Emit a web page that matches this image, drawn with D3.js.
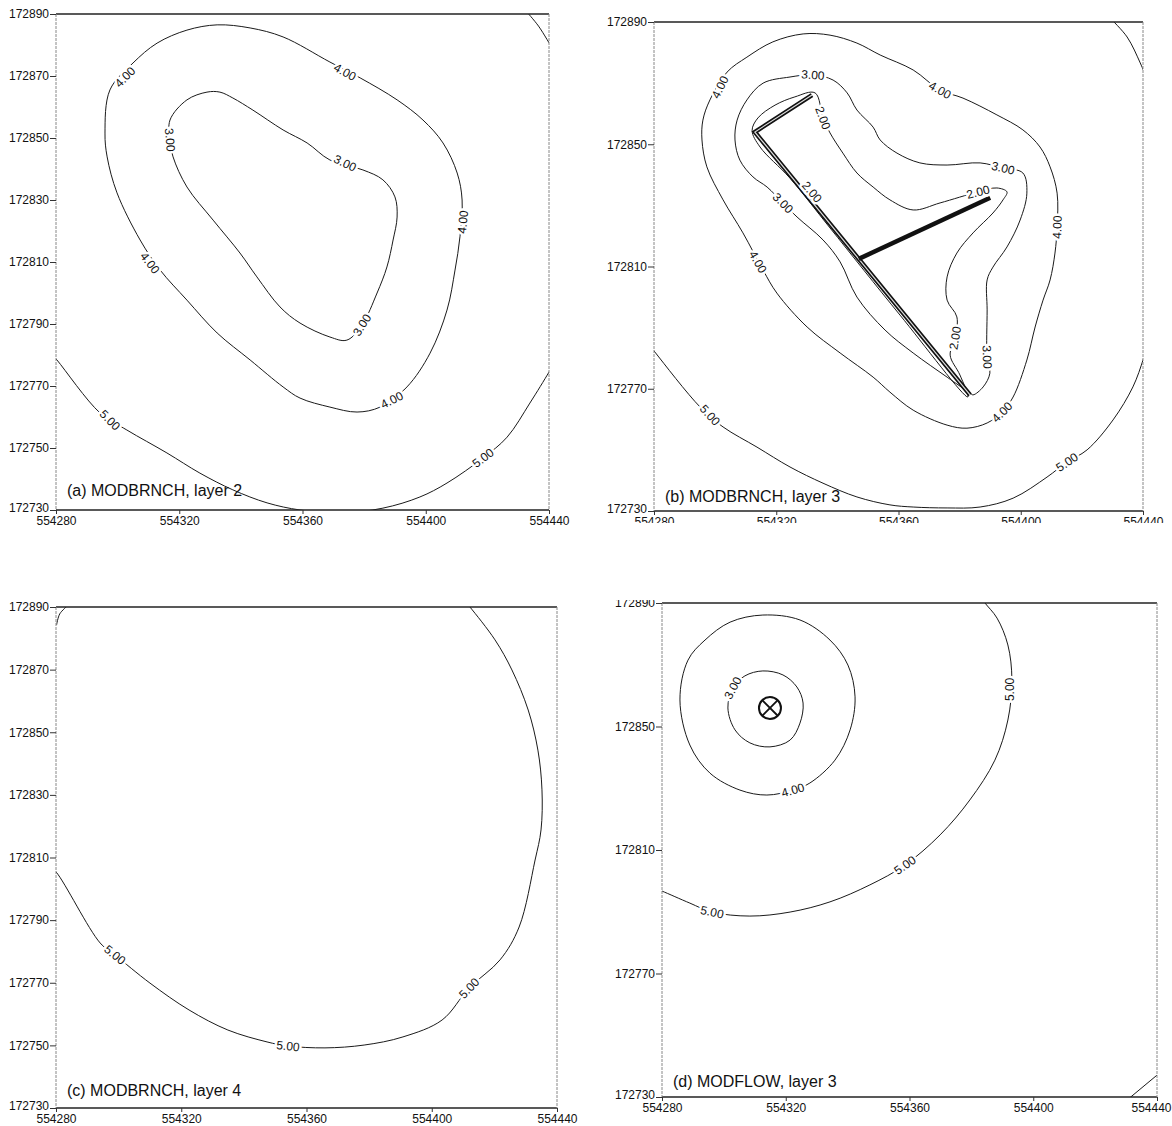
<!DOCTYPE html>
<html>
<head>
<meta charset="utf-8">
<script src="https://cdn.jsdelivr.net/npm/d3@7"></script>
<style>
  body { margin: 0; background: #fff; }
  svg { display: block; font-family: "Liberation Sans", Arial, sans-serif; }
  .tick text { font-size: 12px; fill: #111; }
  .tick line { stroke: #333; }
  .clabel { font-size: 12px; fill: #111; paint-order: stroke; stroke: #fff; stroke-width: 5px; stroke-linejoin: round; }
  .title { font-size: 16px; fill: #111; }
</style>
</head>
<body>
<svg id="chart" width="1172" height="1126"></svg>
<script>
// axis values (easting / northing, metres)
const eastTicks = [554280, 554320, 554360, 554400, 554440];
const northFine = [172730, 172750, 172770, 172790, 172810, 172830, 172850, 172870, 172890];
const northCoarse = [172730, 172770, 172810, 172850, 172890];
const titles = ["(a) MODBRNCH, layer 2", "(b) MODBRNCH, layer 3", "(c) MODBRNCH, layer 4", "(d) MODFLOW, layer 3"];

// (a) head contours, [easting, northing]
const aHead4 = [[554305,172874.2],[554312.8,172880.6],[554322.5,172884.8],[554332.3,172886.5],[554343,172885.5],[554353.7,172882.6],[554368.9,172874.5],[554378.7,172869.4],[554390.7,172862.3],[554399.1,172855.8],[554405.6,172848.4],[554410.2,172838.7],[554411.8,172830],[554411.1,172818.1],[554409.5,172807.4],[554406.9,172794.5],[554401.4,172780.6],[554393.9,172769.7],[554385.2,172763.2],[554377.7,172761.6],[554368.9,172763.2],[554359.2,172766.1],[554353.7,172769.7],[554343,172778.4],[554332.3,172787.1],[554322.5,172797.7],[554313.8,172807.4],[554307.3,172817.1],[554299.8,172832.3],[554296.6,172843.9],[554295.9,172851.6],[554297.5,172865.5]];
const aHead3 = [[554317,172855.8],[554322.5,172862.3],[554329,172864.8],[554333.2,172864.8],[554337.4,172862.9],[554343.9,172859],[554353.7,172852.6],[554361.5,172848.4],[554368.9,172842.9],[554379.6,172839.7],[554386.1,172836.5],[554390,172831],[554390.7,172824.5],[554389.4,172817.1],[554387.4,172808.4],[554384.2,172800],[554379.3,172789.7],[554374.4,172784.8],[554368.9,172785.8],[554359.2,172790.3],[554352.7,172795.5],[554345.2,172805.2],[554339.7,172812.9],[554331,172823.5],[554322.5,172834.2],[554318,172843.9],[554317,172849.4]];
const aHead5 = [[554278,172781],[554280.3,172778.4],[554294.3,172761.3],[554303,172755.8],[554316,172748.4],[554326.7,172741.9],[554337.4,172736.5],[554348.5,172732.3],[554359.2,172730],[554372,172729],[554386.1,172730.6],[554398.1,172734.2],[554406.9,172738.7],[554418.6,172746.8],[554426.4,172753.5],[554433.8,172764.5],[554440,172774.5],[554442,172778]];
const aHead5Corner = [[554432.5,172891],[554436.6,172886.1],[554441,172879]];
const aLabels = [["4.00",554302.4,172869.7],["4.00",554310.5,172809.7],["4.00",554373.8,172871.3],["4.00",554412,172822.9],["4.00",554389,172765.5],["3.00",554317,172849.4],["3.00",554373.8,172841.9],["3.00",554379.3,172789.7],["5.00",554297.5,172759],["5.00",554418.6,172746.8]];

// (b) head contours and the MODBRNCH drains
const bHead5 = [[554278,172785],[554280.3,172782],[554295.1,172764],[554302.6,172757.5],[554313.7,172750.9],[554324.5,172744.4],[554335.3,172739.1],[554346.4,172734.6],[554357.2,172732],[554364.8,172731.3],[554375.9,172731],[554386.7,172731.3],[554397.5,172734.2],[554408.6,172741.1],[554415.1,172746],[554421.7,172750],[554430.2,172759.8],[554436.7,172770.6],[554440,172779.4],[554441,172783]];
const bHead5Corner = [[554429.5,172891],[554434.8,172885.1],[554439.1,172876.6],[554441,172872]];
const bHead4 = [[554303.9,172873.6],[554310.4,172878.5],[554318.9,172883.5],[554328.8,172886.1],[554337.6,172885.7],[554346.4,172883.1],[554354,172879.2],[554364.8,172874.3],[554373.6,172867.7],[554381.1,172865.1],[554392.2,172859.6],[554400.7,172854.7],[554406.3,172849.1],[554409.6,172842.6],[554411.9,172834],[554411.9,172822.9],[554411.2,172814.4],[554409.6,172805.6],[554407.3,172799],[554404.7,172790.2],[554402,172779.4],[554397.5,172767.3],[554393.9,172762.4],[554389,172758.8],[554382.4,172757.1],[554375.9,172758.1],[554364.8,172763],[554357.2,172768.9],[554351.7,172773.8],[554340.9,172781.7],[554330.1,172790.2],[554320.2,172801.3],[554315.7,172808.8],[554309.1,172821],[554302.6,172831.8],[554297.3,172842.6],[554295.7,172851.4],[554296,172857.9],[554298.3,172864.5]];
const bHead3 = [[554384.4,172768],[554387.7,172770.6],[554389.9,172775.1],[554389,172780.4],[554389,172795.8],[554389,172805.6],[554390.9,172809.8],[554395.5,172816.4],[554399.8,172825.2],[554402,172834],[554400.7,172840.6],[554394.2,172842.2],[554386.7,172843.9],[554375.9,172843.2],[554367,172843.9],[554359.5,172847.1],[554354,172851.4],[554351.7,172855.6],[554346.4,172861.2],[554343.2,172866.8],[554338.6,172871],[554332,172872.7],[554324.5,172872],[554315.7,172870],[554310.4,172864.5],[554307.2,172857.9],[554306.5,172851.4],[554308.1,172844.8],[554312.4,172839.3],[554317,172836],[554322.2,172830.8],[554326.8,172826.2],[554335.3,172818.7],[554340.9,172811.5],[554346.4,172800],[554355.6,172789.2],[554364.8,172781.7],[554375.9,172773.8],[554383.4,172768.6]];
const bHead2 = [[554382.7,172767.3],[554360.5,172794.1],[554337.6,172822.6],[554324.5,172838.9],[554314.7,172849.1],[554312.1,172854.5],[554314,172858.6],[554319.6,172862.8],[554326.1,172865.5],[554332.7,172866.8],[554335.3,172858.6],[554337.6,172853.7],[554341.8,172847.1],[554346.4,172840.6],[554351.7,172836],[554357.2,172831.8],[554364.8,172828.5],[554373.6,172830.8],[554386,172834.4],[554392.2,172835.7],[554395.5,172834.4],[554394.2,172831.8],[554390.9,172827.5],[554384.4,172821],[554379.1,172814.4],[554375.9,172806.6],[554375.9,172799],[554379.1,172793.5],[554378.5,172786.6],[554376.9,172781],[554380.1,172774.5]];
const bDrainMain = [[554331.7,172866.1],[554313,172854],[554383.4,172768]];
const bDrainBranch = [[554347,172812.5],[554390,172832.5]];
const bLabels = [["4.00",554301.6,172868.7],["3.00",554332,172872.7],["2.00",554335.3,172858.6],["4.00",554373.6,172867.7],["3.00",554394.2,172842.2],["2.00",554386,172834.4],["4.00",554411.9,172822.9],["3.00",554322.2,172830.8],["2.00",554331.7,172834.4],["4.00",554314,172811.5],["5.00",554298.3,172761.4],["2.00",554378.5,172786.6],["3.00",554389,172780.4],["4.00",554393.9,172762.4],["5.00",554415.1,172746]];

// (c) head contours
const cHead5 = [[554278,172807],[554280,172805.4],[554294.1,172782.7],[554298.8,172778.9],[554310,172769.9],[554322.5,172761.3],[554334.9,172754.9],[554347.4,172751.1],[554354.1,172749.8],[554365.9,172749.2],[554378.4,172750.1],[554390.8,172752.7],[554403.3,172758.1],[554411.9,172768.3],[554421.8,172777.3],[554427.9,172787.8],[554433,172809.2],[554434.9,172818.8],[554435.2,172831.6],[554433.9,172844.3],[554430.8,172857.1],[554425.6,172869.9],[554420.2,172879.5],[554412.2,172890],[554410.5,172892]];
const cHead5Corner = [[554280.2,172884.3],[554281.2,172887.8],[554283.8,172890.5]];
const cLabels = [["5.00",554298.8,172778.9],["5.00",554354.1,172749.8],["5.00",554411.9,172768.3]];

// (d) MODFLOW head contours and the well
const dHead3 = [[554301.3,172856],[554302.9,172862.5],[554306.8,172866.4],[554312.6,172868],[554319.1,172866.7],[554323.6,172862.8],[554325.6,172857.6],[554324.6,172851.1],[554321.4,172845.6],[554314.9,172843.4],[554308.4,172844.7],[554303.6,172848.9]];
const dHead4 = [[554285.8,172858.6],[554288.4,172871.5],[554293.9,172878],[554302,172883.8],[554312.6,172886.1],[554324.6,172884.5],[554334.3,172878],[554340.1,172869.9],[554342.4,172859.6],[554340.8,172848.9],[554335.9,172839.1],[554327.8,172831.7],[554322.3,172829.4],[554313.9,172827.8],[554305.2,172829.4],[554295.5,172834.9],[554289,172844]];
const dHead5 = [[554278,172797.5],[554280,172796.7],[554289,172792.8],[554296.2,172789.9],[554308.4,172788.6],[554321.4,172789.9],[554334.3,172793.2],[554347.2,172798.7],[554358.5,172805.1],[554369.9,172814.9],[554379.5,172826.2],[554387.6,172839.1],[554391.8,172852.1],[554393.1,172865.1],[554391.8,172876.4],[554388.3,172885.1],[554384.4,172890],[554383.4,172891.5]];
const dHead5Corner = [[554430.3,172729],[554440.5,172737.5]];
const dWell = [554314.9, 172856];
const dLabels = [["3.00",554302.9,172862.5],["4.00",554322.3,172829.4],["5.00",554296.2,172789.9],["5.00",554358.5,172805.1],["5.00",554392.5,172862]];

// panel layout (pixel boxes: left, right, top, bottom)
const panels = [
  { box: [56, 549, 14, 510], yTicks: northFine, titleDy: 14, labels: aLabels,
    lines: [{ pts: aHead4, closed: true }, { pts: aHead3, closed: true }, { pts: aHead5 }, { pts: aHead5Corner }] },
  { box: [654, 1143, 22, 511], yTicks: northCoarse, titleDy: 9, labels: bLabels, clipBottomAxis: 523,
    lines: [{ pts: bHead5 }, { pts: bHead5Corner }, { pts: bHead4, closed: true }, { pts: bHead3, closed: true }, { pts: bHead2, closed: true }] },
  { box: [56, 557, 607, 1108], yTicks: northFine, titleDy: 12, labels: cLabels,
    lines: [{ pts: cHead5 }, { pts: cHead5Corner }] },
  { box: [662, 1157, 603, 1097], yTicks: northCoarse, titleDy: 10, labels: dLabels, clipLeftAxisTop: 600, lastTickShift: -6,
    lines: [{ pts: dHead3, closed: true }, { pts: dHead4, closed: true }, { pts: dHead5 }, { pts: dHead5Corner }] }
];

const svg = d3.select("#chart");
const defs = svg.append("defs");

panels.forEach((p, i) => {
  const [x0, x1, y0, y1] = p.box;
  const x = d3.scaleLinear().domain([554280, 554440]).range([x0, x1]);
  const y = d3.scaleLinear().domain([172730, 172890]).range([y1, y0]);
  const g = svg.append("g");

  defs.append("clipPath").attr("id", "plot" + i)
    .append("rect").attr("x", x0).attr("y", y0).attr("width", x1 - x0).attr("height", y1 - y0);

  // contour lines
  const openLine = d3.line().x(d => x(d[0])).y(d => y(d[1])).curve(d3.curveCatmullRom.alpha(0.5));
  const closedLine = d3.line().x(d => x(d[0])).y(d => y(d[1])).curve(d3.curveCatmullRomClosed.alpha(0.5));
  const cg = g.append("g").attr("clip-path", `url(#plot${i})`);
  cg.selectAll("path.contour")
    .data(p.lines)
    .enter().append("path")
    .attr("class", "contour")
    .attr("d", d => (d.closed ? closedLine : openLine)(d.pts))
    .attr("fill", "none")
    .attr("stroke", "#1a1a1a")
    .attr("stroke-width", 1);

  // drains in (b)
  if (i === 1) {
    const straight = d3.line().x(d => x(d[0])).y(d => y(d[1]));
    cg.append("path").attr("d", straight(bDrainMain)).attr("fill", "none")
      .attr("stroke", "#111").attr("stroke-width", 4.5).attr("stroke-linejoin", "miter");
    cg.append("path").attr("d", straight(bDrainMain)).attr("fill", "none")
      .attr("stroke", "#ddd").attr("stroke-width", 1.2);
    cg.append("path").attr("d", straight(bDrainBranch)).attr("fill", "none")
      .attr("stroke", "#111").attr("stroke-width", 4.5);
  }

  // well in (d)
  if (i === 3) {
    const wx = x(dWell[0]), wy = y(dWell[1]), r = 11;
    const wg = g.append("g");
    wg.append("circle").attr("cx", wx).attr("cy", wy).attr("r", r)
      .attr("fill", "#fff").attr("stroke", "#111").attr("stroke-width", 2);
    const k = r * Math.SQRT1_2;
    wg.append("path")
      .attr("d", `M${wx - k},${wy - k}L${wx + k},${wy + k}M${wx - k},${wy + k}L${wx + k},${wy - k}`)
      .attr("stroke", "#111").attr("stroke-width", 1.8);
  }

  // contour labels, turned along the nearest contour
  const pix = p.lines.map(l => ({ closed: l.closed, pts: l.pts.map(d => [x(d[0]), y(d[1])]) }));
  function angleAt(px, py) {
    let best = null, bd = Infinity;
    pix.forEach(l => {
      l.pts.forEach((q, j) => {
        const dd = (q[0] - px) ** 2 + (q[1] - py) ** 2;
        if (dd < bd) { bd = dd; best = { l, j }; }
      });
    });
    const n = best.l.pts.length;
    let a = best.j - 1, b = best.j + 1;
    if (best.l.closed) { a = (a + n) % n; b = b % n; }
    a = Math.max(0, a); b = Math.min(n - 1, b);
    const pa = best.l.pts[a], pb = best.l.pts[b];
    let ang = Math.atan2(pb[1] - pa[1], pb[0] - pa[0]) * 180 / Math.PI;
    if (ang > 90) ang -= 180;
    if (ang < -90) ang += 180;
    return ang;
  }
  g.selectAll("text.clabel")
    .data(p.labels)
    .enter().append("text")
    .attr("class", "clabel")
    .attr("text-anchor", "middle")
    .attr("dy", "0.35em")
    .attr("transform", d => {
      const px = x(d[1]), py = y(d[2]);
      return `translate(${px},${py}) rotate(${angleAt(px, py)})`;
    })
    .text(d => d[0]);

  // frame
  g.append("line").attr("x1", x0).attr("x2", x1).attr("y1", y0).attr("y2", y0)
    .attr("stroke", "#222").attr("stroke-width", 1.3);
  g.append("line").attr("x1", x0).attr("x2", x1).attr("y1", y1).attr("y2", y1)
    .attr("stroke", "#222").attr("stroke-width", 1.3);
  g.append("line").attr("x1", x0).attr("x2", x0).attr("y1", y0).attr("y2", y1)
    .attr("stroke", "#888").attr("stroke-width", 1).attr("stroke-dasharray", "3,1");
  g.append("line").attr("x1", x1).attr("x2", x1).attr("y1", y0).attr("y2", y1)
    .attr("stroke", "#888").attr("stroke-width", 1).attr("stroke-dasharray", "3,1");

  // axes
  const xAxis = g.append("g")
    .attr("transform", `translate(0,${y1})`)
    .call(d3.axisBottom(x).tickValues(eastTicks).tickSize(4).tickPadding(2).tickFormat(d3.format("d")));
  xAxis.select(".domain").remove();
  if (p.lastTickShift) {
    xAxis.selectAll(".tick text").filter(d => d === 554440).attr("dx", p.lastTickShift);
  }
  if (p.clipBottomAxis) {
    defs.append("clipPath").attr("id", "xa" + i).append("rect")
      .attr("x", 0).attr("y", -10).attr("width", 1172).attr("height", p.clipBottomAxis - y1 + 10);
    xAxis.attr("clip-path", `url(#xa${i})`);
  }

  const yAxis = g.append("g")
    .attr("transform", `translate(${x0},0)`)
    .call(d3.axisLeft(y).tickValues(p.yTicks).tickSize(6).tickPadding(1).tickFormat(d3.format("d")));
  yAxis.select(".domain").remove();
  yAxis.selectAll(".tick text").filter(d => d === 172730).attr("dy", "0.1em");
  if (p.clipLeftAxisTop) {
    defs.append("clipPath").attr("id", "ya" + i).append("rect")
      .attr("x", -100).attr("y", p.clipLeftAxisTop).attr("width", 200).attr("height", 600);
    yAxis.attr("clip-path", `url(#ya${i})`);
  }

  g.append("text").attr("class", "title")
    .attr("x", x0 + 11).attr("y", y1 - p.titleDy)
    .text(titles[i]);
});
</script>
</body>
</html>
